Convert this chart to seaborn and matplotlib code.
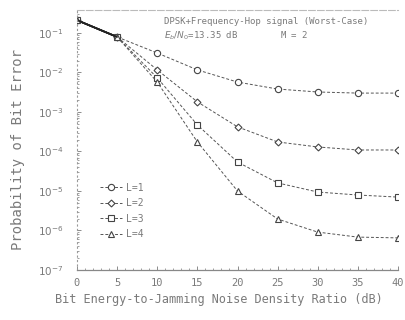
import matplotlib
matplotlib.use("Agg")
import matplotlib.pyplot as plt
import matplotlib.ticker as mticker
import seaborn as sns
import pandas as pd
import numpy as np

# Data
snr_db = [0, 5, 10, 15, 20, 25, 30, 35, 40]
ber_L1 = [0.21, 0.079, 0.031, 0.0116, 5.7e-3, 3.8e-3, 3.2e-3, 3.0e-3, 3.0e-3]
ber_L2 = [0.21, 0.079, 0.0116, 1.8e-3, 4.2e-4, 1.74e-4, 1.3e-4, 1.09e-4, 1.09e-4]
ber_L3 = [0.21, 0.079, 7.3e-3, 4.7e-4, 5.4e-5, 1.6e-5, 9.4e-6, 7.9e-6, 7.0e-6]
ber_L4 = [0.21, 0.079, 5.7e-3, 1.74e-4, 1.0e-5, 1.95e-6, 9.1e-7, 6.8e-7, 6.5e-7]
series_labels = ["L=1", "L=2", "L=3", "L=4"]
x_ticks = [0, 5, 10, 15, 20, 25, 30, 35, 40]
y_tick_exps = [-7, -6, -5, -4, -3, -2, -1]

sns.set_theme(style="ticks")
plt.rcParams['font.family'] = ['DejaVu Sans Mono', 'DejaVu Sans']

txt = "#7a7a7a"
line_c = "#555555"

fig = plt.figure(figsize=(4.05, 3.2), dpi=100)
ax = fig.add_axes([77/405, 1 - 270/320, 321/405, 260/320])

markers = ["o", "D", "s", "^"]
msizes = [4.5, 3.5, 4.5, 4.5]
all_series = [ber_L1, ber_L2, ber_L3, ber_L4]
for lab, ys, mk, ms in zip(series_labels, all_series, markers, msizes):
    df = pd.DataFrame({"x": snr_db, "y": ys})
    sns.lineplot(data=df, x="x", y="y", ax=ax, color=line_c, lw=0.7,
                 linestyle=(0, (3, 2)), marker=mk, markersize=ms,
                 markerfacecolor="white", markeredgecolor="#444444",
                 markeredgewidth=0.8, label=lab)
    sns.lineplot(data=df.iloc[:2], x="x", y="y", ax=ax, color="#222222",
                 lw=1.2, legend=False)

ax.set_yscale("log")
ax.set_xlim(0, 40)
ax.set_ylim(1e-7, 10 ** (-0.42))
ax.set_xticks(x_ticks)
ax.set_xticklabels([str(v) for v in x_ticks])
ax.set_yticks([10.0 ** e for e in y_tick_exps])
ax.set_yticklabels([f"$10^{{{e}}}$" for e in y_tick_exps])
ax.yaxis.set_minor_locator(mticker.LogLocator(base=10, subs=np.arange(2, 10)))
ax.yaxis.set_minor_formatter(mticker.NullFormatter())
ax.xaxis.set_minor_locator(mticker.MultipleLocator(1))
ax.tick_params(axis="both", which="major", colors=txt, labelcolor=txt,
               labelsize=7.5, length=3, width=0.6, direction="in")
ax.tick_params(axis="both", which="minor", colors=txt, length=1.5,
               width=0.5, direction="in")
ax.tick_params(axis="x", pad=6)
ax.tick_params(axis="y", pad=10)

ax.spines["right"].set_visible(False)
ax.spines["top"].set_color("#bbbbbb")
ax.spines["top"].set_linestyle((0, (6, 2)))
ax.spines["top"].set_linewidth(0.8)
ax.spines["left"].set_color("#999999")
ax.spines["left"].set_linestyle((0, (1, 3)))
ax.spines["left"].set_linewidth(0.8)
ax.spines["bottom"].set_color("#888888")
ax.spines["bottom"].set_linewidth(0.9)

ax.set_xlabel("")
ax.set_ylabel("")
fig.text(55/405, 1 - 300/320, "Bit Energy-to-Jamming Noise Density Ratio (dB)",
         color=txt, fontsize=8.6, ha="left", va="center")
fig.text(18/405, 1 - 150/320, "Probability of Bit Error", color=txt,
         fontsize=10, rotation=90, ha="center", va="center")

ax.text(0.27, 0.975, "DPSK+Frequency-Hop signal (Worst-Case)", transform=ax.transAxes,
        color=txt, fontsize=6.5, ha="left", va="top")
ax.text(0.27, 0.925, "$E_b/N_0$=13.35 dB        M = 2", transform=ax.transAxes,
        color=txt, fontsize=6.5, ha="left", va="top")

leg = ax.legend(loc="upper left", bbox_to_anchor=(0.06, 0.35), frameon=False,
                fontsize=7, handlelength=2.2, labelspacing=0.55,
                handletextpad=0.5, borderaxespad=0)
for t in leg.get_texts():
    t.set_color(txt)

fig.savefig("out.png", dpi=100, facecolor="white")
